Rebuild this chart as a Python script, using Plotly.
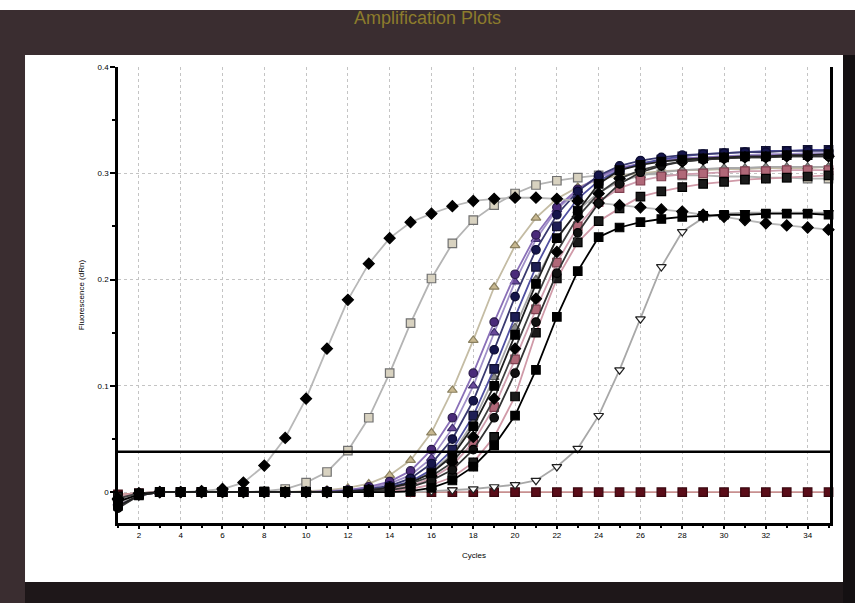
import plotly.graph_objects as go

cycles = list(range(1, 36))
threshold = 0.038

s_diamond_early = [-0.007,-0.002,0.000,0.000,0.001,0.003,0.009,0.025,0.051,0.088,0.135,0.181,0.215,0.239,0.254,0.262,0.269,0.274,0.276,0.277,0.277,0.276,0.274,0.272,0.270,0.268,0.266,0.264,0.261,0.259,0.256,0.253,0.251,0.249,0.247]
s_square_gray = [-0.009,-0.002,0,0,0,0,0,0.001,0.003,0.009,0.019,0.039,0.070,0.112,0.159,0.201,0.234,0.256,0.270,0.281,0.289,0.293,0.296,0.298,0.299,0.299,0.299,0.298,0.298,0.297,0.297,0.296,0.296,0.295,0.295]
s_tri_tan = [-0.004,-0.001,0,0,0,0,0,0,0,0.001,0.002,0.004,0.008,0.016,0.030,0.056,0.096,0.143,0.193,0.232,0.258,0.276,0.287,0.294,0.298,0.300,0.302,0.303,0.303,0.304,0.304,0.305,0.305,0.305,0.306]
s_purple1 = [-0.012,-0.003,0,0,0,0,0,0,0,0,0.001,0.002,0.005,0.010,0.020,0.040,0.070,0.112,0.160,0.205,0.242,0.268,0.285,0.297,0.305,0.309,0.312,0.314,0.315,0.316,0.316,0.317,0.317,0.317,0.317]
s_purple2 = [-0.010,-0.002,0,0,0,0,0,0,0,0,0.001,0.002,0.004,0.008,0.016,0.032,0.060,0.100,0.150,0.198,0.238,0.266,0.284,0.296,0.304,0.309,0.312,0.314,0.315,0.316,0.317,0.318,0.318,0.319,0.319]
s_navy1 = [-0.014,-0.003,0,0,0,0,0,0,0,0,0,0.001,0.003,0.006,0.013,0.027,0.050,0.086,0.134,0.184,0.228,0.261,0.283,0.298,0.307,0.312,0.315,0.317,0.318,0.319,0.320,0.320,0.321,0.321,0.321]
s_navy2 = [-0.008,-0.002,0,0,0,0,0,0,0,0,0,0.001,0.002,0.005,0.010,0.021,0.040,0.072,0.116,0.165,0.212,0.250,0.276,0.293,0.303,0.309,0.313,0.316,0.318,0.319,0.320,0.321,0.321,0.322,0.322]
s_black1 = [-0.013,-0.003,0,0,0,0,0,0,0,0,0,0.001,0.002,0.004,0.009,0.018,0.034,0.062,0.100,0.148,0.196,0.239,0.265,0.290,0.303,0.308,0.311,0.313,0.314,0.315,0.316,0.316,0.317,0.317,0.318]
s_black2 = [-0.006,-0.001,0,0,0,0,0,0,0,0,0,0,0.002,0.004,0.008,0.015,0.028,0.052,0.088,0.135,0.182,0.226,0.259,0.281,0.295,0.303,0.308,0.311,0.313,0.314,0.315,0.315,0.316,0.316,0.316]
s_gray1 = [-0.011,-0.002,0,0,0,0,0,0,0,0,0,0.001,0.002,0.004,0.009,0.019,0.036,0.066,0.108,0.155,0.200,0.238,0.265,0.282,0.292,0.298,0.301,0.303,0.304,0.305,0.305,0.306,0.306,0.306,0.306]
s_pink = [-0.005,-0.001,0,0,0,0,0,0,0,0,0,0,0.001,0.003,0.006,0.013,0.025,0.047,0.080,0.125,0.172,0.216,0.250,0.273,0.286,0.293,0.297,0.299,0.300,0.301,0.302,0.302,0.303,0.303,0.303]
s_black3 = [-0.015,-0.003,0,0,0,0,0,0,0,0,0,0,0.001,0.002,0.005,0.011,0.021,0.040,0.070,0.112,0.160,0.206,0.244,0.272,0.290,0.301,0.307,0.311,0.313,0.314,0.315,0.315,0.316,0.316,0.316]
s_late_sq = [-0.004,-0.001,0,0,0,0,0,0,0,0,0,0,0,0.001,0.003,0.007,0.014,0.028,0.052,0.090,0.150,0.201,0.235,0.255,0.267,0.278,0.283,0.287,0.290,0.292,0.294,0.295,0.296,0.297,0.298]
s_late_circ = [-0.009,-0.002,0,0,0,0,0,0,0,0,0,0,0,0,0.001,0.004,0.011,0.024,0.044,0.072,0.115,0.165,0.208,0.240,0.249,0.254,0.257,0.259,0.260,0.261,0.261,0.262,0.262,0.262,0.261]
s_tri_late = [-0.010,-0.003,0,0,0,0,0,0,0,0,0,0,0,0,0,0.001,0.002,0.003,0.005,0.007,0.011,0.024,0.041,0.072,0.115,0.163,0.212,0.245,0.258,0.262,0.263,0.263,0.263,0.263,0.263]
s_ntc = [-0.002,-0.001,0,0,0,0,0,0,0,0,0,0,0,0,0,0,0,0,0,0,0,0,0,0,0,0,0,0,0,0,0,0,0,0,0]

x_ticks = list(range(2, 36, 2))
y_ticks = [0, 0.1, 0.2, 0.3, 0.4]

# (values, marker symbol, marker fill, marker outline, line colour)
series = [
    (s_ntc, "square", "#5a0c18", "#3a0810", "#c89090"),
    (s_square_gray, "square", "#d8d2c0", "#707070", "#b4b4b4"),
    (s_tri_tan, "triangle-up", "#c8b890", "#8a8060", "#c4bca4"),
    (s_gray1, "triangle-up", "#8c8c8c", "#606060", "#a8a8a8"),
    (s_pink, "square", "#b06878", "#804050", "#d0a0b0"),
    (s_purple2, "triangle-up", "#6a4a9a", "#3a2a6a", "#a090c8"),
    (s_purple1, "circle", "#4a2a7a", "#2a1a4a", "#8a70b8"),
    (s_navy2, "square", "#1e1e55", "#101030", "#5050a0"),
    (s_navy1, "circle", "#15154a", "#0a0a30", "#3a3a70"),
    (s_late_sq, "square", "#1a1a1a", "#000000", "#d09aa8"),
    (s_tri_late, "triangle-down", "#ffffff", "#202020", "#a8a8a8"),
    (s_diamond_early, "diamond", "#000000", "#000000", "#b8b8b8"),
    (s_black2, "diamond", "#000000", "#000000", "#404040"),
    (s_black3, "circle", "#111111", "#000000", "#333333"),
    (s_late_circ, "square", "#000000", "#000000", "#000000"),
    (s_black1, "square", "#000000", "#000000", "#202020"),
]

fig = go.Figure()
for vals, sym, fill, edge, lc in series:
    fig.add_trace(go.Scatter(
        x=cycles, y=vals, mode="lines+markers",
        line=dict(color=lc, width=1.8),
        marker=dict(symbol=sym, size=8.5, color=fill, line=dict(color=edge, width=1.2)),
        cliponaxis=False, showlegend=False, hoverinfo="x+y"))

font_family = "Liberation Sans, Arial, sans-serif"

fig.update_layout(
    width=855, height=603,
    margin=dict(l=118, r=25, t=67, b=80),
    paper_bgcolor="#3a2d30",
    plot_bgcolor="#ffffff",
    font=dict(family=font_family, size=8, color="#000000"),
    title=dict(text="Amplification Plots", x=0.5, xref="container", xanchor="center",
               y=0.970, yref="container", yanchor="middle",
               font=dict(family=font_family, size=18, color="#8c7c2c")),
)

fig.update_xaxes(
    range=[1, 35.07], tickvals=x_ticks, ticktext=[str(v) for v in x_ticks],
    showline=True, linecolor="#000000", linewidth=2.5, mirror=False,
    ticks="outside", ticklen=3, tickwidth=1.5, tickcolor="#000000",
    minor=dict(dtick=1, tick0=1, ticks="outside", ticklen=2, tickcolor="#000000", showgrid=False),
    showgrid=True, gridcolor="#c4c4c4", gridwidth=1, griddash="dot",
    zeroline=False,
    title=dict(text="Cycles", standoff=14, font=dict(size=8)),
    tickfont=dict(size=8),
)
fig.update_yaxes(
    range=[-0.029, 0.4], tickvals=y_ticks, ticktext=["0", "0.1", "0.2", "0.3", "0.4"],
    showline=True, linecolor="#000000", linewidth=2.5, mirror=True,
    ticks="outside", ticklen=5, tickwidth=1.5, tickcolor="#000000",
    minor=dict(dtick=0.05, tick0=0, ticks="outside", ticklen=3, tickcolor="#000000", showgrid=False),
    showgrid=True, gridcolor="#c4c4c4", gridwidth=1, griddash="dot",
    zeroline=False,
    title=dict(text="Fluorescence (dRn)", standoff=12, font=dict(size=8)),
    tickfont=dict(size=8),
)

# white card behind the chart (scanned page look) and dark edges
fig.add_shape(type="rect", xref="paper", yref="paper", x0=-0.1306, x1=1.0183, y0=-0.1294, y1=1.0263,
              fillcolor="#ffffff", line=dict(width=0), layer="below")
fig.add_shape(type="rect", xref="paper", yref="paper", x0=-0.1306, x1=1.0183, y0=-0.1754, y1=-0.1294,
              fillcolor="#1e1719", line=dict(width=0), layer="below")
fig.add_shape(type="rect", xref="paper", yref="paper", x0=1.0183, x1=1.036, y0=-0.1754, y1=1.0263,
              fillcolor="#141012", line=dict(width=0), layer="below")
fig.add_shape(type="rect", xref="paper", yref="paper", x0=-0.166, x1=1.036, y0=1.125, y1=1.147,
              fillcolor="#ffffff", line=dict(width=0), layer="below")

# threshold line
fig.add_shape(type="line", xref="paper", yref="y", x0=0, x1=1, y0=threshold, y1=threshold,
              line=dict(color="#000000", width=2.5), layer="above")

fig.write_html("out.html", config={"displayModeBar": False},
               post_script="document.body.style.margin='0';")
